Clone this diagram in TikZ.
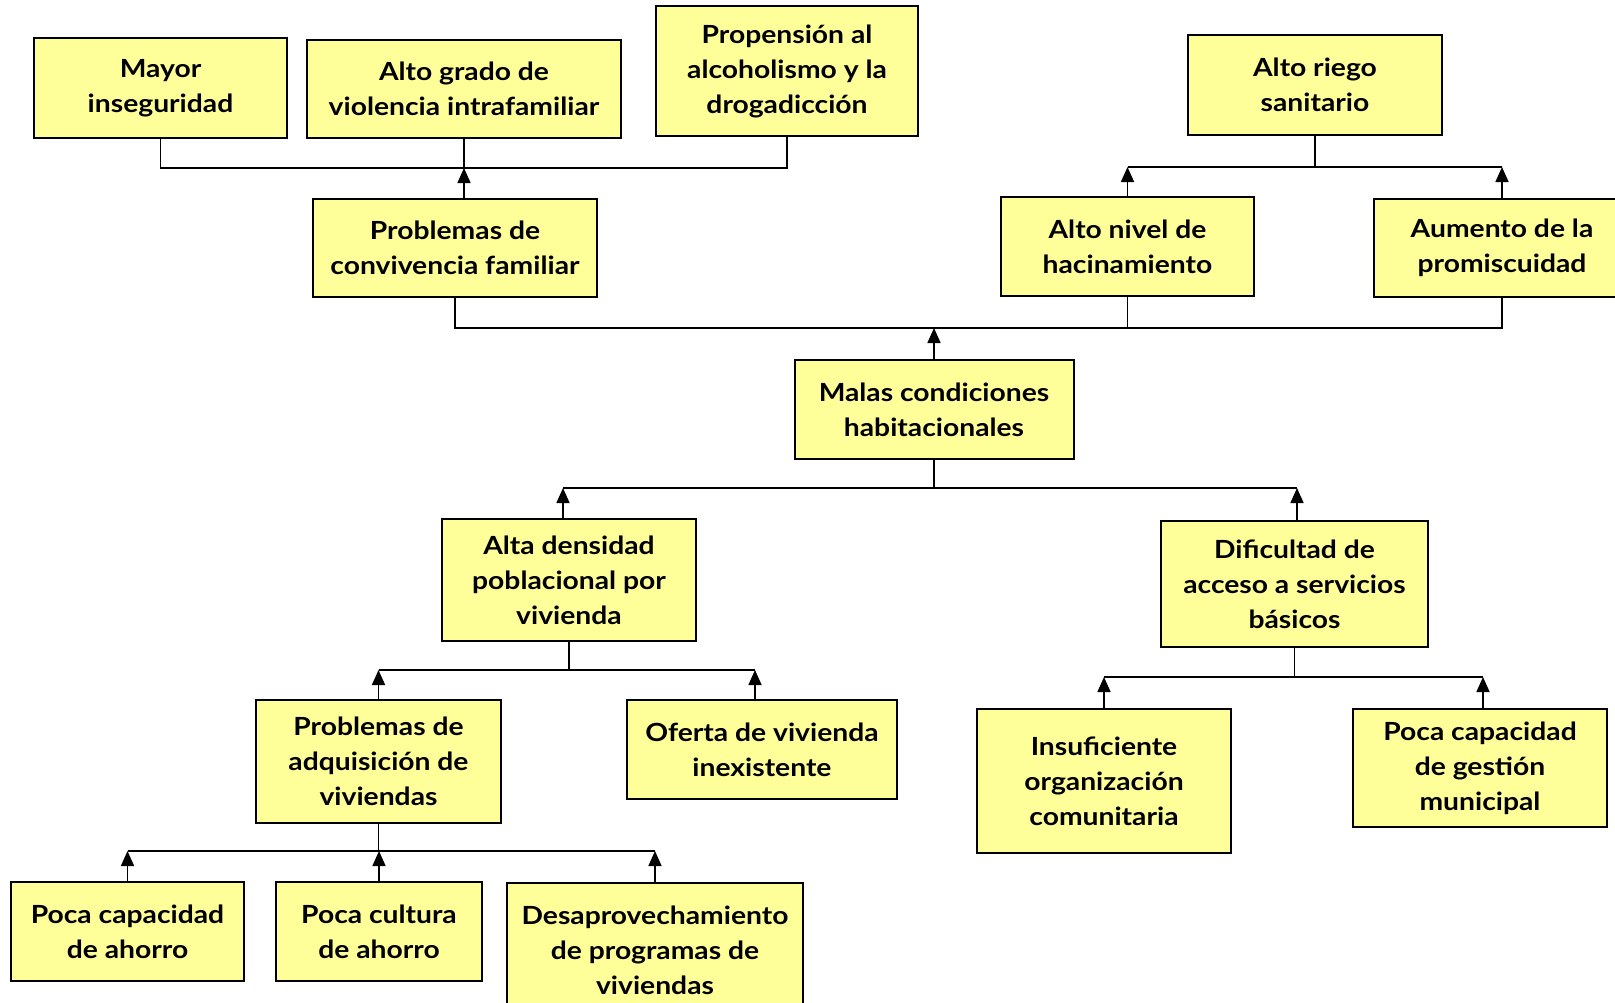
\documentclass[tikz,border=0pt]{standalone}
\usepackage{fontspec}
\setmainfont{Lato}[FakeStretch=1.13]
\usetikzlibrary{arrows.meta}
\definecolor{ylw}{RGB}{255,255,153}
\tikzset{
  box/.style={draw=black, line width=2pt, fill=ylw, inner sep=0pt, align=center,
    font=\fontsize{25}{35}\selectfont\bfseries},
  conn/.style={draw=black, line width=1.6pt},
  arr/.style={conn, -{Triangle[length=15pt,width=13pt]}}
}
\begin{document}
\begin{tikzpicture}[x=1pt,y=-1pt]
\clip (0,0) rectangle (1615,1002);
\fill[white] (0,0) rectangle (1615,1002);
% boxes
\node[box, minimum width=253, minimum height=100] (mayor) at (160.5,88) {Mayor\\inseguridad};
\node[box, minimum width=314, minimum height=98] (alto) at (464,89) {Alto grado de\\violencia intrafamiliar};
\node[box, minimum width=262, minimum height=130] (prop) at (787,71) {Propensión al\\alcoholismo y la\\drogadicción};
\node[box, minimum width=254, minimum height=100] (riesgo) at (1315,85) {Alto riego\\sanitario};
\node[box, minimum width=284, minimum height=98] (pconv) at (455,248) {Problemas de\\convivencia familiar};
\node[box, minimum width=253, minimum height=99] (hacin) at (1127.5,246.5) {Alto nivel de\\hacinamiento};
\node[box, minimum width=256, minimum height=98] (aum) at (1502,248) {Aumento de la\\promiscuidad};
\node[box, minimum width=279, minimum height=99] (malas) at (934,409.5) {Malas condiciones\\habitacionales};
\node[box, minimum width=254, minimum height=122] (alta) at (569,580) {Alta densidad\\poblacional por\\vivienda};
\node[box, minimum width=267, minimum height=126] (dific) at (1294.5,584) {Dificultad de\\acceso a servicios\\básicos};
\node[box, minimum width=245, minimum height=123] (padq) at (378.5,761.5) {Problemas de\\adquisición de\\viviendas};
\node[box, minimum width=270, minimum height=99] (oferta) at (762,749.5) {Oferta de vivienda\\inexistente};
\node[box, minimum width=254, minimum height=144] (insuf) at (1104,781) {Insuficiente\\organización\\comunitaria};
\node[box, minimum width=254, minimum height=118] (pgest) at (1480,768) {Poca capacidad\\de gestión\\municipal};
\node[box, minimum width=233, minimum height=99] (pcap) at (127.5,931.5) {Poca capacidad\\de ahorro};
\node[box, minimum width=206, minimum height=99] (pcult) at (379,931.5) {Poca cultura\\de ahorro};
\node[box, minimum width=296, minimum height=134] (desap) at (655,950) {Desaprovechamiento\\de programas de\\viviendas};
% bus levels
\coordinate (b1) at (0,168);
\coordinate (b2) at (0,167);
\coordinate (b3) at (0,328);
\coordinate (b4) at (0,488);
\coordinate (b5) at (0,670);
\coordinate (b6) at (0,677);
\coordinate (b7) at (0,851);
% top-left
\draw[conn] (mayor.south) -- (mayor.south |- b1) -- (prop.south |- b1) -- (prop.south);
\draw[conn] (alto.south) -- (alto.south |- b1);
\draw[arr] (pconv.north -| alto.south) -- (alto.south |- b1);
% top-right
\draw[conn] (riesgo.south) -- (riesgo.south |- b2);
\draw[conn] (hacin.north |- b2) -- (aum.north |- b2);
\draw[arr] (hacin.north) -- (hacin.north |- b2);
\draw[arr] (aum.north) -- (aum.north |- b2);
% middle bus
\draw[conn] (pconv.south) -- (pconv.south |- b3) -- (aum.south |- b3) -- (aum.south);
\draw[conn] (hacin.south) -- (hacin.south |- b3);
\draw[arr] (malas.north) -- (malas.north |- b3);
% malas children
\coordinate (aA) at ([xshift=-6pt]alta.north);
\coordinate (aD) at ([xshift=2.5pt]dific.north);
\draw[conn] (malas.south) -- (malas.south |- b4);
\draw[conn] (aA |- b4) -- (aD |- b4);
\draw[arr] (aA) -- (aA |- b4);
\draw[arr] (aD) -- (aD |- b4);
% alta children
\coordinate (aO) at ([xshift=-7pt]oferta.north);
\draw[conn] (alta.south) -- (alta.south |- b5);
\draw[conn] (padq.north |- b5) -- (aO |- b5);
\draw[arr] (padq.north) -- (padq.north |- b5);
\draw[arr] (aO) -- (aO |- b5);
% dificultad children
\coordinate (aG) at ([xshift=3pt]pgest.north);
\draw[conn] (dific.south) -- (dific.south |- b6);
\draw[conn] (insuf.north |- b6) -- (aG |- b6);
\draw[arr] (insuf.north) -- (insuf.north |- b6);
\draw[arr] (aG) -- (aG |- b6);
% padq children
\draw[conn] (padq.south) -- (padq.south |- b7);
\draw[conn] (pcap.north |- b7) -- (desap.north |- b7);
\draw[arr] (pcap.north) -- (pcap.north |- b7);
\draw[arr] (pcult.north) -- (pcult.north |- b7);
\draw[arr] (desap.north) -- (desap.north |- b7);
\end{tikzpicture}
\end{document}
